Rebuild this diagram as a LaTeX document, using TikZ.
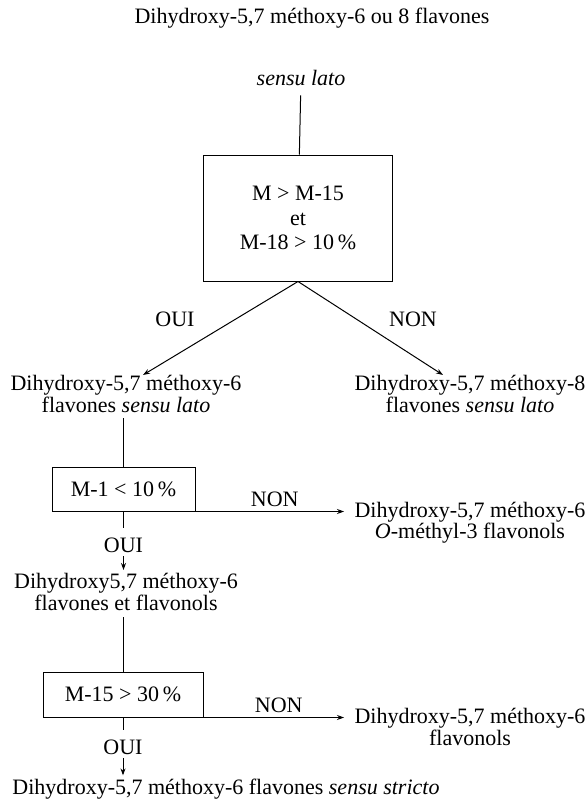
\documentclass[tikz,border=0pt]{standalone}
\usepackage{fontspec}
\setmainfont{Liberation Serif}
\usetikzlibrary{arrows.meta}

\begin{document}
\begin{tikzpicture}[x=1pt,y=-1pt,line width=1pt,>={Stealth[length=7pt,width=5pt]},
        font=\fontsize{22}{21.5}\selectfont,
        every node/.style={align=center,inner sep=0pt},
        test/.style={draw,line width=1pt,minimum width=#1,minimum height=44pt}]
        \useasboundingbox (0,0) rectangle (588,801);

        \node (title) at (312,18) {Dihydroxy-5,7 méthoxy-6 ou 8 flavones};
        \node (sl) at (301,78) {\textit{sensu lato}};
        % first test
        \node [test=189pt,minimum height=126pt] (t1) at (298,218)
            {M > M-15\\[3pt]et\\[3pt]M-18 > 10\,\%};
        \draw [shorten <=9pt] (sl) -- (t1);

        \node (fl6) at (126,394) {Dihydroxy-5,7 méthoxy-6\\flavones \textit{sensu lato}};
        \node (fl8) at (470,394) {Dihydroxy-5,7 méthoxy-8\\flavones \textit{sensu lato}};
        \draw [->] (t1.south) -- ([xshift=17pt]fl6.north);
        \draw [->] (t1.south) -- ([xshift=-27pt]fl8.north);
        \node (oui1) at (175,319) {OUI};
        \node (non1) at (413,319) {NON};

        % second and third tests
        \node [test=143pt] (t2) at (123.5,489) {M-1 < 10\,\%};
        \node (ofl) at (470,522.5) {Dihydroxy-5,7 méthoxy-6\\\textit{O}-méthyl-3 flavonols};
        \node (ff) at (126,592) {Dihydroxy5,7 méthoxy-6\\flavones et flavonols};
        \node [test=160pt,minimum height=45pt] (t3) at (123,694.5) {M-15 > 30\,\%};
        \node (fl) at (470,727) {Dihydroxy-5,7 méthoxy-6\\flavonols};
        \node (ss) at (226,789) {Dihydroxy-5,7 méthoxy-6 flavones \textit{sensu stricto}};

        \draw [shorten <=5pt] (t2.north |- fl6.south) -- (t2.north);
        \draw [shorten <=6pt] (t3.north |- ff.south) -- (t3.north);

        \foreach \t/\r/\n/\d in {t2/ofl/ff/34,t3/fl/ss/30} {
            \draw [->,shorten >=10pt] (\t.south east) -- (\t.south east -| \r.west)
                node [midway,above=4pt] {NON};
            \node (oui\t) at ([yshift=-\d pt]\t.south) {OUI};
            \draw [shorten >=10pt] (\t.south) -- (oui\t.north);
            \draw [->,shorten <=3pt,shorten >=3pt] (oui\t.south) -- (oui\t.south |- \n.north);
        }
\end{tikzpicture}
\end{document}
